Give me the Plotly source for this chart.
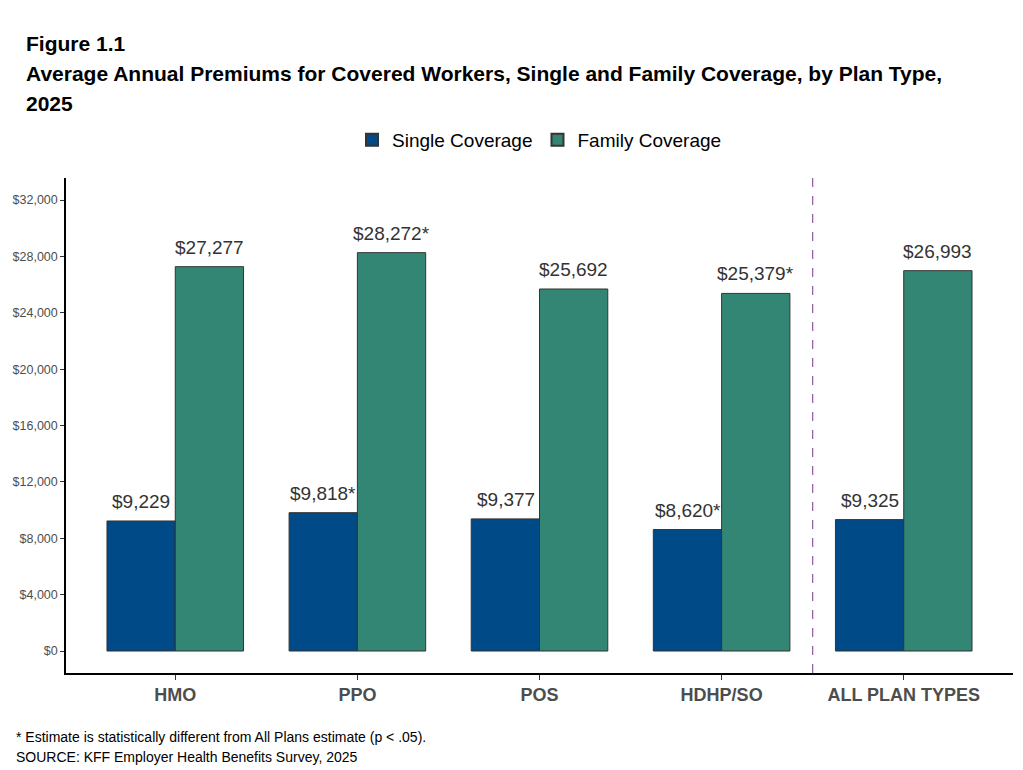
import plotly.graph_objects as go

categories = ["HMO", "PPO", "POS", "HDHP/SO", "ALL PLAN TYPES"]
single_values = [9229, 9818, 9377, 8620, 9325]
family_values = [27277, 28272, 25692, 25379, 26993]
single_labels = ["$9,229", "$9,818*", "$9,377", "$8,620*", "$9,325"]
family_labels = ["$27,277", "$28,272*", "$25,692", "$25,379*", "$26,993"]
y_ticks = [0, 4000, 8000, 12000, 16000, 20000, 24000, 28000, 32000]
y_tick_labels = ["$0", "$4,000", "$8,000", "$12,000", "$16,000", "$20,000",
                 "$24,000", "$28,000", "$32,000"]

FONT = "Arial, Liberation Sans, sans-serif"

fig = go.Figure()
fig.add_trace(go.Bar(
    x=categories, y=single_values, name="Single Coverage",
    marker=dict(color="#004a87", line=dict(color="#333333", width=1)),
))
fig.add_trace(go.Bar(
    x=categories, y=family_values, name="Family Coverage",
    marker=dict(color="#338673", line=dict(color="#333333", width=1)),
))

# value labels above bars
half_bar_px = 34
for vals, labs, shift in ((single_values, single_labels, -half_bar_px),
                          (family_values, family_labels, half_bar_px)):
    for c, v, t in zip(categories, vals, labs):
        fig.add_annotation(x=c, y=v, text=t, showarrow=False, xanchor="center",
                           yanchor="bottom", xshift=shift, yshift=7,
                           font=dict(size=19, color="#333333", family=FONT))

fig.add_vline(x=3.5, line=dict(color="#8e5aa0", width=1.2, dash="dash"))

fig.update_layout(
    width=1023, height=770,
    margin=dict(l=66, r=10, t=178, b=97),
    paper_bgcolor="white", plot_bgcolor="white",
    barmode="group", bargap=0.25, bargroupgap=0,
    font=dict(family=FONT, color="#333333"),
    showlegend=True,
    legend=dict(orientation="h", x=0.5, xanchor="center", y=1.077, yanchor="middle",
                font=dict(size=19, color="#000000"), itemsizing="constant",
                traceorder="normal"),
    xaxis=dict(range=[-0.6, 4.6], showline=True, linecolor="#000000", linewidth=1.5,
               ticks="outside", ticklen=5, tickcolor="#333333",
               tickfont=dict(size=18, color="#4d4d4d", family=FONT, weight="bold"),
               showgrid=False, zeroline=False),
    yaxis=dict(range=[-1560, 33570], showline=True, linecolor="#000000", linewidth=1.5,
               ticks="outside", ticklen=4, tickcolor="#333333",
               tickmode="array", tickvals=y_ticks, ticktext=y_tick_labels,
               tickfont=dict(size=12.5, color="#4d4d4d", family=FONT),
               showgrid=False, zeroline=False),
)

title_lines = [
    "Figure 1.1",
    "Average Annual Premiums for Covered Workers, Single and Family Coverage, by Plan Type,",
    "2025",
]
title_y = [1.2727, 1.2121, 1.1515]
for txt, yy in zip(title_lines, title_y):
    fig.add_annotation(text="<b>" + txt + "</b>", xref="paper", yref="paper",
                       x=-0.0443, y=yy, xanchor="left", yanchor="middle",
                       showarrow=False, font=dict(size=21, color="#000000", family=FONT))

notes = ["* Estimate is statistically different from All Plans estimate (p < .05).",
         "SOURCE: KFF Employer Health Benefits Survey, 2025"]
notes_y = [-0.1293, -0.1697]
for txt, yy in zip(notes, notes_y):
    fig.add_annotation(text=txt, xref="paper", yref="paper",
                       x=-0.0549, y=yy, xanchor="left", yanchor="middle",
                       showarrow=False, font=dict(size=14, color="#000000", family=FONT))

fig.write_html("out.html",
               config={"displayModeBar": False},
               post_script="document.body.style.margin='0';document.body.style.padding='0';")
